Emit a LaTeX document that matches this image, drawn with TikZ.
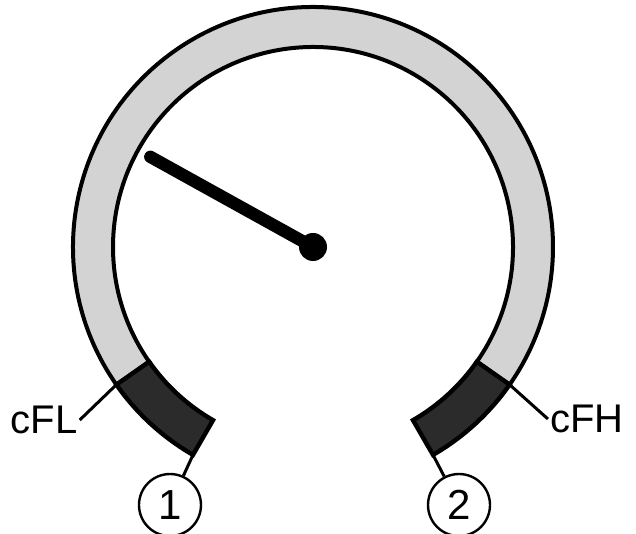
\documentclass[tikz,border=0pt]{standalone}
\usepackage{fontspec}
\setmainfont{Liberation Sans}
\definecolor{ringgray}{HTML}{D3D3D3}
\definecolor{stopdark}{HTML}{2B2B2B}
\begin{document}
\begin{tikzpicture}[
    x=0.5pt, y=0.5pt,
    band/.style={draw, line width=2pt, fill=ringgray},
    stopband/.style={draw, line width=2.2pt, fill=stopdark},
    lbl/.style={font=\fontsize{20}{20}\selectfont, inner sep=1pt},
    num/.style={circle, draw, line width=1.2pt, minimum size=31pt, inner sep=0pt, font=\fontsize{21}{21}\selectfont},
    lead/.style={line width=1.5pt}
]
    \useasboundingbox (-313,247) rectangle (323,-287);

    % Skala
    \path[band] (215:240) arc[start angle=215, end angle=-35, radius=240]
        -- (-35:200) arc[start angle=-35, end angle=215, radius=200] -- cycle;
    \path[stopband] (240:240) arc[start angle=240, end angle=215, radius=240]
        -- (215:200) arc[start angle=215, end angle=240, radius=200] -- cycle;
    \path[stopband] (-35:240) arc[start angle=-35, end angle=-60, radius=240]
        -- (-60:200) arc[start angle=-60, end angle=-35, radius=200] -- cycle;

    \coordinate (fl) at (215:240);
    \coordinate (fh) at (-35:240);
    \coordinate (e1) at (240:240);
    \coordinate (e2) at (-60:240);

    % Zeiger
    \coordinate (tip) at (151:186);
    \node[circle, fill, minimum size=14pt, inner sep=0pt] (hub) at (0,0) {};
    \draw[line width=6.2pt, line cap=round] (hub.center) -- (tip);

    % Beschriftung
    \node[lbl] (cfl) at (-269,-173) {cFL};
    \node[lbl] (cfh) at (274,-172) {cFH};
    \draw[lead] (fl) -- (cfl.east);
    \draw[lead] (fh) -- (cfh.west);

    \node[num] (n1) at (-143,-258) {1};
    \node[num] (n2) at (146,-258) {2};
    \draw[lead] (e1) -- (n1);
    \draw[lead] (e2) -- (n2);
\end{tikzpicture}
\end{document}
